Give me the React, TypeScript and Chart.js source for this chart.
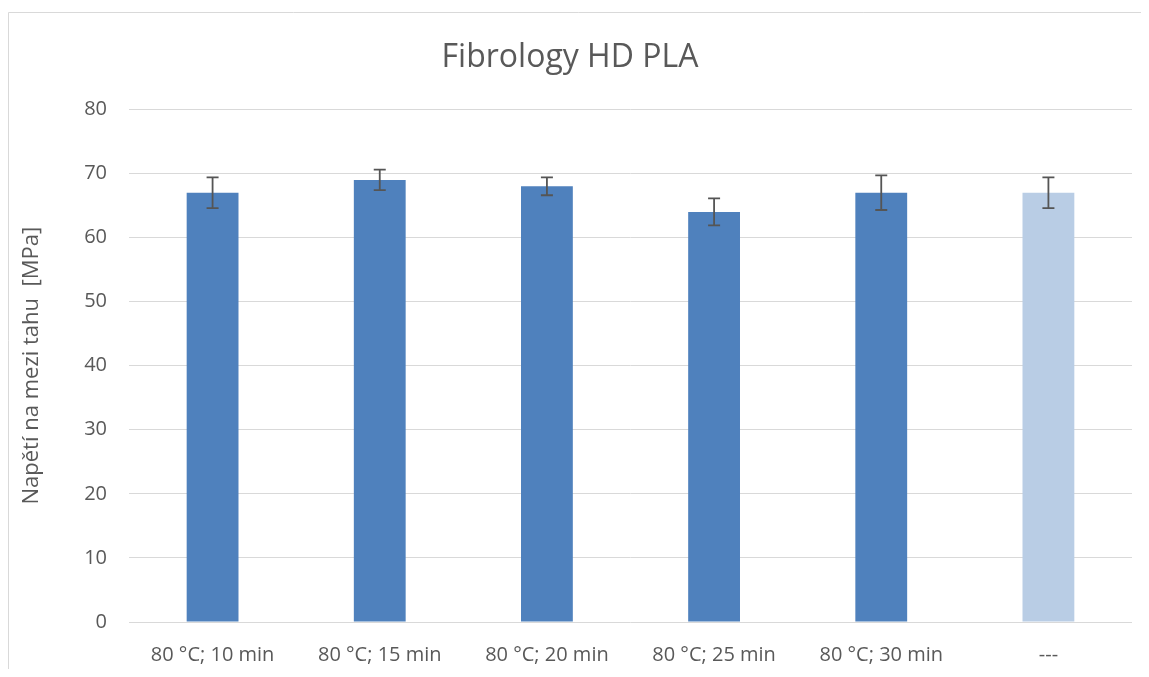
import React, { useEffect, useRef } from "react";
import { Chart, registerables } from "chart.js";

Chart.register(...registerables);

const categories = ["80 °C; 10 min", "80 °C; 15 min", "80 °C; 20 min", "80 °C; 25 min", "80 °C; 30 min", "---"];
const values = [67, 69, 68, 64, 67, 67];
const errors = [2.4, 1.6, 1.4, 2.1, 2.7, 2.4];
const barColors = ["#4f81bd", "#4f81bd", "#4f81bd", "#4f81bd", "#4f81bd", "#b9cde5"];
const yTicks = [0, 10, 20, 30, 40, 50, 60, 70, 80];
const chartTitle = "Fibrology HD PLA";
const yTitle = "Napětí na mezi tahu  [MPa]";

const FONT = "'Open Sans', sans-serif";

const errorBarPlugin = {
  id: "errorBars",
  afterDatasetsDraw(chart: any) {
    const ctx = chart.ctx;
    const meta = chart.getDatasetMeta(0);
    const y = chart.scales.y;
    ctx.save();
    ctx.strokeStyle = "#555555";
    ctx.lineWidth = 1.8;
    meta.data.forEach((bar: any, i: number) => {
      const x = bar.x;
      const top = y.getPixelForValue(values[i] + errors[i]);
      const bot = y.getPixelForValue(values[i] - errors[i]);
      const cap = 6;
      ctx.beginPath();
      ctx.moveTo(x, top);
      ctx.lineTo(x, bot);
      ctx.moveTo(x - cap, top);
      ctx.lineTo(x + cap, top);
      ctx.moveTo(x - cap, bot);
      ctx.lineTo(x + cap, bot);
      ctx.stroke();
    });
    ctx.restore();
  },
};

const borderPlugin = {
  id: "outerBorder",
  beforeDraw(chart: any) {
    const ctx = chart.ctx;
    ctx.save();
    ctx.fillStyle = "#ffffff";
    ctx.fillRect(0, 0, chart.width, chart.height);
    ctx.strokeStyle = "#d9d9d9";
    ctx.lineWidth = 1;
    ctx.beginPath();
    ctx.moveTo(0.5, chart.height);
    ctx.lineTo(0.5, 4.5);
    ctx.lineTo(chart.width, 4.5);
    ctx.stroke();
    ctx.restore();
  },
};

export default function App() {
  const ref = useRef<HTMLCanvasElement>(null);
  useEffect(() => {
    document.documentElement.style.overflow = "hidden";
    const chart = new Chart(ref.current!, {
      type: "bar",
      data: {
        labels: categories,
        datasets: [
          {
            data: values,
            backgroundColor: barColors,
            borderWidth: 0,
            barPercentage: 0.31,
            categoryPercentage: 1,
          },
        ],
      },
      options: {
        responsive: false,
        animation: false,
        layout: { padding: { left: 0, right: 17, top: 0, bottom: 0 } },
        plugins: {
          legend: { display: false },
          tooltip: { enabled: false },
          title: {
            display: true,
            text: chartTitle,
            color: "#595959",
            font: { family: FONT, size: 32, weight: "normal" },
            padding: { top: 31, bottom: 32 },
          },
        },
        scales: {
          x: {
            grid: { display: false },
            border: { display: false },
            ticks: {
              color: "#595959",
              font: { family: FONT, size: 20 },
              padding: 13,
              maxRotation: 0,
            },
            afterFit(scale: any) {
              scale.height = 47;
            },
          },
          y: {
            min: 0,
            max: 80,
            afterBuildTicks(scale: any) {
              scale.ticks = yTicks.map((v) => ({ value: v }));
            },
            grid: { color: "#d9d9d9", lineWidth: 1, drawTicks: false },
            border: { display: false },
            ticks: {
              color: "#595959",
              font: { family: FONT, size: 20 },
              padding: 22,
            },
            title: {
              display: true,
              text: yTitle,
              color: "#595959",
              font: { family: FONT, size: 22, weight: "normal" },
              padding: { top: 11, bottom: 0 },
            },
            afterFit(scale: any) {
              scale.width = 121;
            },
          },
        },
      },
      plugins: [errorBarPlugin, borderPlugin],
    });
    return () => chart.destroy();
  }, []);
  return (
    <div style={{ width: 1141, height: 661 }}>
      <canvas ref={ref} width={1141} height={661} style={{ display: "block", width: 1141, height: 661 }} />
    </div>
  );
}
